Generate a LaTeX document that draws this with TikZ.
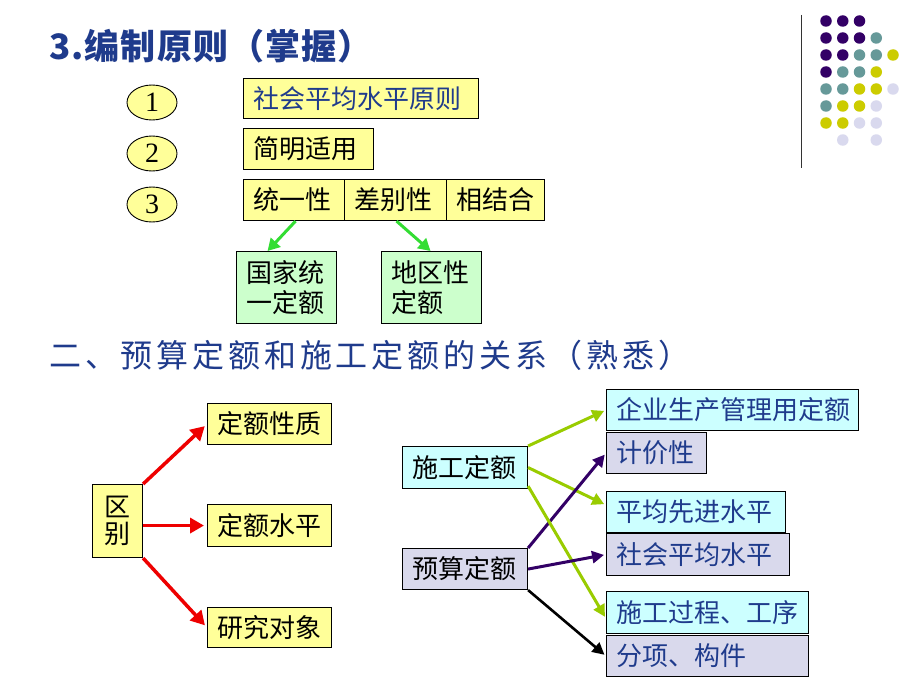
\documentclass[tikz,border=0pt]{standalone}
\usepackage{fontspec}
\setmainfont{Noto Sans CJK SC}
\newfontfamily\headfont[LetterSpace=12]{Noto Sans CJK SC}
\newfontfamily\titlefont[LetterSpace=3]{Noto Sans CJK SC}
\newfontfamily\numfont{Liberation Serif}
\usetikzlibrary{arrows.meta,shapes.geometric}
\definecolor{ybox}{HTML}{FFFF99}
\definecolor{gbox}{HTML}{CCFFCC}
\definecolor{cbox}{HTML}{CCFFFF}
\definecolor{lbox}{HTML}{D9D9EC}
\definecolor{bluetxt}{HTML}{1F3B8C}
\definecolor{arrred}{HTML}{EE0000}
\definecolor{arrgreen}{HTML}{33DD33}
\definecolor{arrlime}{HTML}{99CC00}
\definecolor{arrpurple}{HTML}{330066}
\definecolor{dotP}{HTML}{330066}
\definecolor{dotT}{HTML}{669999}
\definecolor{dotY}{HTML}{CCCC00}
\definecolor{dotL}{HTML}{D9D9EE}
\tikzset{
  boxbase/.style={draw=black, line width=1.1pt, anchor=north west, inner xsep=10pt, inner ysep=0pt,
    font=\fontsize{26}{30}\selectfont, align=left},
  yb/.style={boxbase, fill=ybox},
  gb/.style={boxbase, fill=gbox},
  cb/.style={boxbase, fill=cbox},
  lb/.style={boxbase, fill=lbox},
  numell/.style={ellipse, draw=black, line width=0.9pt, fill=ybox, minimum width=50pt, minimum height=35pt,
    inner sep=0pt, font=\numfont\fontsize{28}{30}\selectfont},
  redarr/.style={draw=arrred, line width=3.5pt, -{Triangle[length=14pt,width=15pt]}, shorten >=3pt},
  grnarr/.style={draw=arrgreen, line width=3pt, -{Triangle[length=12pt,width=13pt]}},
  limearr/.style={draw=arrlime, line width=3pt, -{Triangle[length=12pt,width=12pt]}, shorten >=2pt},
  purarr/.style={draw=arrpurple, line width=3pt, -{Triangle[length=12pt,width=12pt]}, shorten >=2pt},
  blkarr/.style={draw=black, line width=2.6pt, -{Triangle[length=12pt,width=12pt]}, shorten >=2pt},
  dot/.style={circle, inner sep=0pt, minimum size=11.5pt}
}
\begin{document}
\begin{tikzpicture}[x=1pt,y=-1pt]
\useasboundingbox[fill=white] (0,0) rectangle (920,690);

% title
\node[anchor=west, text=bluetxt, font=\titlefont\bfseries\fontsize{35}{38}\selectfont, inner sep=0pt] (title) at (49,46) {3.编制原则（掌握）};

% decoration line and dots
\coordinate (vl1) at (801.5,15);
\coordinate (vl2) at (801.5,168);
\draw[line width=1.2pt, black!80] (vl1) -- (vl2);
\foreach \r/\y/\cols in {1/21/{1/P,2/P,3/P},2/38/{1/P,2/P,3/P,4/T},3/55/{1/P,2/P,3/T,4/T,5/Y},
  4/72/{1/P,2/T,3/T,4/Y},5/89/{1/T,2/T,3/Y,4/Y,5/L},6/106/{1/T,2/Y,3/Y,4/L},7/123/{1/Y,2/Y,3/L,4/L},8/140/{2/L,4/L}}{
  \foreach \c/\k in \cols {
    \node[dot, fill=dot\k] (d\r\c) at ({826+16.75*(\c-1)},\y) {};
  }
}

% numbered ellipses
\node[numell] (n1) at (152,102.5) {1};
\node[numell] (n2) at (152,153.5) {2};
\node[numell] (n3) at (152,204.5) {3};

% principle boxes
\node[yb, text=bluetxt, minimum height=40pt, text width=215pt] (p1) at (243,78) {社会平均水平原则};
\node[yb, minimum height=41pt, text width=110pt] (p2) at (243,128) {简明适用};
\node[yb, minimum height=41pt, text width=81pt] (u1) at (243,179) {统一性};
\node[yb, minimum height=41pt, text width=82pt] (u2) at (344,179) {差别性};
\node[yb, minimum height=41pt, text width=78pt] (u3) at (446,179) {相结合};

\node[gb, minimum height=72pt, text width=80pt] (g1) at (236,251) {国家统\\一定额};
\node[gb, minimum height=72pt, text width=80pt] (g2) at (381,251) {地区性\\定额};

\draw[grnarr] ([xshift=1.5pt]u1.south) -- ([xshift=-19pt]g1.north);
\draw[grnarr] ([xshift=1pt]u2.south) -- ([xshift=-1pt]g2.north);

% heading
\node[anchor=west, text=bluetxt, font=\headfont\fontsize{32}{36}\selectfont, inner sep=0pt] (head) at (49,355) {二、预算定额和施工定额的关系（熟悉）};

% lower left
\node[yb, minimum height=73pt, text width=30pt, inner xsep=10pt, align=center, font=\fontsize{26}{27}\selectfont] (qb) at (92,484) {区\\别};
\node[yb, minimum height=41pt, text width=104pt, align=center] (d1) at (207,403) {定额性质};
\node[yb, minimum height=42pt, text width=104pt, align=center] (d2) at (207,504) {定额水平};
\node[yb, minimum height=40pt, text width=104pt, align=center] (d3) at (207,607) {研究对象};

\draw[redarr] (qb.north east) -- (d1.west);
\draw[redarr] (qb.east |- d2.west) -- (d2.west);
\draw[redarr] (qb.south east) -- (d3.west);

% lower right
\node[cb, minimum height=42pt, text width=105pt] (sg) at (402,446) {施工定额};
\node[lb, minimum height=41pt, text width=105pt] (ys) at (402,548) {预算定额};

\node[cb, text=bluetxt, minimum height=41pt, text width=232pt] (r1) at (606,389) {企业生产管理用定额};
\node[lb, text=bluetxt, minimum height=41pt, text width=80pt] (r2) at (606,432) {计价性};
\node[cb, text=bluetxt, minimum height=41pt, text width=159pt] (r3) at (606,491) {平均先进水平};
\node[lb, text=bluetxt, minimum height=42pt, text width=163pt] (r4) at (606,533) {社会平均水平};
\node[cb, text=bluetxt, minimum height=42pt, text width=182pt] (r5) at (606,591) {施工过程、工序};
\node[lb, text=bluetxt, minimum height=41pt, text width=182pt] (r6) at (606,635) {分项、构件};

\draw[limearr] (sg.north east) -- (r1.west);
\draw[limearr] (sg.east) -- ([yshift=7pt]r3.west);
\draw[purarr] (ys.north east) -- (r2.west);
\draw[limearr] ([yshift=3pt]sg.south east) -- ([yshift=-6pt]r5.west);
\draw[purarr] (ys.east) -- (r4.west);
\draw[blkarr] (ys.south east) -- (r6.west);
\end{tikzpicture}
\end{document}
